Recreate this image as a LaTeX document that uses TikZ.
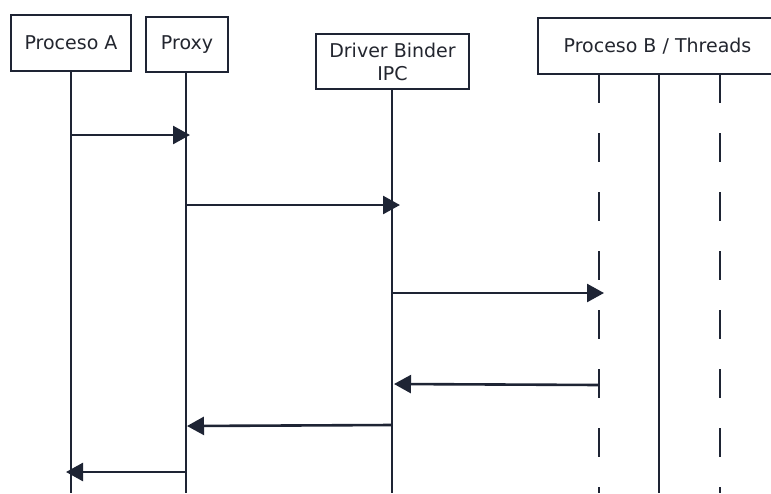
\documentclass[tikz,border=0pt]{standalone}
\usepackage{fontspec}
\setmainfont{DejaVu Sans}
\usetikzlibrary{arrows.meta}
\definecolor{ink}{HTML}{1E2434}
\definecolor{txt}{HTML}{23262F}
\begin{document}
\begin{tikzpicture}[x=1pt,y=-1pt,
  actor/.style={draw=ink,line width=2.8pt,fill=white,inner sep=0pt,
    font=\fontsize{19}{23}\selectfont,text=txt,align=center},
  life/.style={draw=ink,line width=2.6pt},
  lifedash/.style={draw=ink,line width=2.6pt,dash pattern=on 29pt off 30pt},
  msg/.style={draw=ink,line width=2.6pt,-{Triangle[length=17pt,width=18pt]}}]
\useasboundingbox[fill=white] (0,0) rectangle (771,493);
% actors
\node[actor,minimum width=120pt,minimum height=56pt] (A) at (71,43) {Proceso A};
\node[actor,minimum width=82pt,minimum height=55pt] (P) at (187,44.5) {Proxy};
\node[actor,minimum width=153pt,minimum height=55pt] (D) at (392.5,61.5) {Driver Binder\\IPC};
\node[actor,minimum width=239pt,minimum height=56pt] (B) at (657.5,46) {Proceso B / Threads};
% lifeline ends
\coordinate (Ab) at (71,493);
\coordinate (Pb) at (186,493);
\coordinate (Db) at (392,493);
\coordinate (B1t) at (599,74);
\coordinate (B1b) at (599,493);
\coordinate (B2t) at (659,74);
\coordinate (B2b) at (659,493);
\coordinate (B3t) at (720,74);
\coordinate (B3b) at (720,493);
\draw[life] (A.south -| Ab) -- (Ab);
\draw[life] (P.south -| Pb) -- (Pb);
\draw[life] (D.south -| Db) -- (Db);
\draw[lifedash] (B1t) -- (B1b);
\draw[life] (B2t) -- (B2b);
\draw[lifedash] (B3t) -- (B3b);
% message endpoints
\coordinate (m1s) at (71,135);  \coordinate (m1e) at (190,135);
\coordinate (m2s) at (186,205); \coordinate (m2e) at (400,205);
\coordinate (m3s) at (392,293); \coordinate (m3e) at (604,293);
\coordinate (m4s) at (599,385); \coordinate (m4e) at (394,384);
\coordinate (m5s) at (392,425); \coordinate (m5e) at (187,426);
\coordinate (m6s) at (186,472); \coordinate (m6e) at (66,472);
\draw[msg] (m1s) -- (m1e);
\draw[msg] (m2s) -- (m2e);
\draw[msg] (m3s) -- (m3e);
\draw[msg] (m4s) -- (m4e);
\draw[msg] (m5s) -- (m5e);
\draw[msg] (m6s) -- (m6e);
\end{tikzpicture}
\end{document}
